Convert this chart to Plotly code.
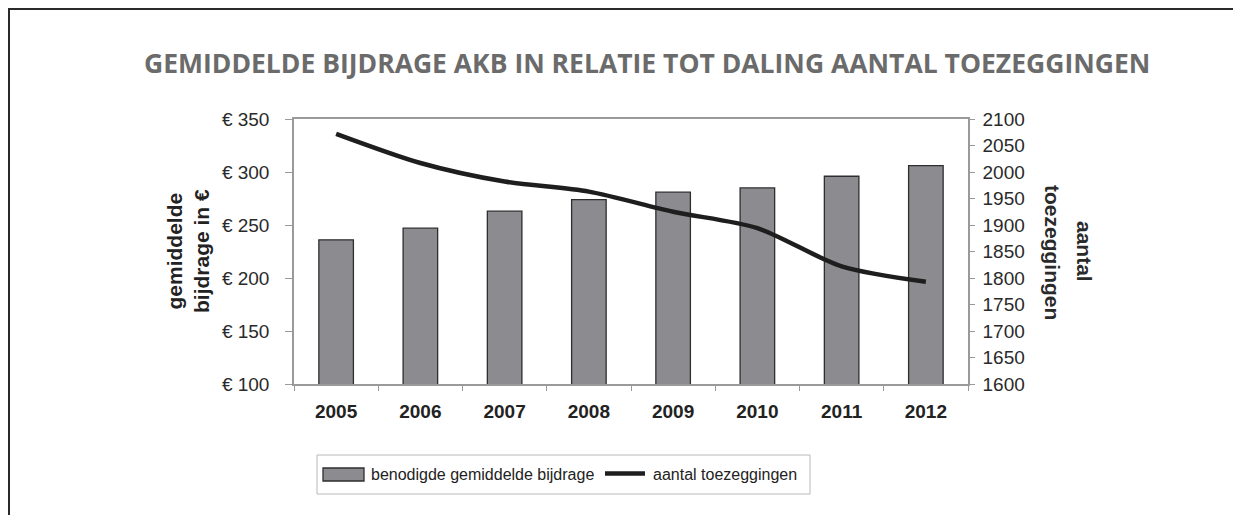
import plotly.graph_objects as go

years = ["2005", "2006", "2007", "2008", "2009", "2010", "2011", "2012"]
bijdrage = [236, 247, 263, 274, 281, 285, 296, 306]
toezeggingen = [2072, 2017, 1982, 1963, 1925, 1894, 1822, 1793]
left_ticks = [100, 150, 200, 250, 300, 350]
left_ticktext = ["€ 100", "€ 150", "€ 200", "€ 250", "€ 300", "€ 350"]
right_ticks = [1600, 1650, 1700, 1750, 1800, 1850, 1900, 1950, 2000, 2050, 2100]

# The page adds an 8px body margin; work in page pixels and convert.
OFF = 8
W, H = 1241 - OFF, 515 - OFF
PL, PR, PT, PB = 294, 968, 119, 384          # plot area in page pixels
L, R, T, B = PL - OFF, PR - OFF, PT - OFF, PB - OFF


def px(xp):
    return (xp - OFF - L) / (R - L)


def py(yp):
    return (B - (yp - OFF)) / (B - T)


SANS = "Liberation Sans, Arial, sans-serif"

fig = go.Figure()
fig.add_trace(go.Bar(
    x=years, y=bijdrage, name="benodigde gemiddelde bijdrage",
    marker=dict(color="#8c8c90", line=dict(color="#2e2e2e", width=1.3)),
    width=0.41, yaxis="y", showlegend=False,
))
fig.add_trace(go.Scatter(
    x=years, y=toezeggingen, name="aantal toezeggingen", mode="lines",
    line=dict(color="#1e1e1e", width=4.5, shape="spline", smoothing=0.8),
    yaxis="y2", showlegend=False,
))

axis_font = dict(family=SANS, size=19, color="#2a2a2a")
fig.update_layout(
    width=W, height=H,
    margin=dict(l=L, r=W - R, t=T, b=H - B),
    paper_bgcolor="white", plot_bgcolor="white",
    showlegend=False,
    xaxis=dict(
        type="category", showline=True, linecolor="#9a9a9a", linewidth=1.5,
        ticks="outside", ticklen=5, tickcolor="#9a9a9a", tickson="boundaries",
        tickfont=dict(family=SANS, size=19, color="#222", weight="bold"),
        ticklabelstandoff=9,
        mirror=True, showgrid=False,
    ),
    yaxis=dict(
        range=[100, 350], tickvals=left_ticks, ticktext=left_ticktext,
        showline=True, linecolor="#9a9a9a", linewidth=1.5,
        ticks="outside", ticklen=7, tickcolor="#9a9a9a",
        ticklabelstandoff=12,
        tickfont=axis_font, showgrid=False, zeroline=False,
    ),
    yaxis2=dict(
        range=[1600, 2100], tickvals=right_ticks, overlaying="y", side="right",
        showline=True, linecolor="#9a9a9a", linewidth=1.5,
        ticks="outside", ticklen=5, tickcolor="#9a9a9a",
        ticklabelstandoff=4,
        tickfont=axis_font, showgrid=False, zeroline=False,
    ),
)

# Title
fig.add_annotation(
    text="GEMIDDELDE BIJDRAGE AKB IN RELATIE TOT DALING AANTAL TOEZEGGINGEN",
    xref="paper", yref="paper", x=px(647), y=py(63),
    xanchor="center", yanchor="middle", showarrow=False,
    font=dict(family="Open Sans, sans-serif", size=26.5, color="#6b6b6b", weight="bold"),
)
# Axis titles
fig.add_annotation(
    text="gemiddelde<br>bijdrage in €", textangle=-90,
    xref="paper", yref="paper", x=px(188), y=py(251),
    xanchor="center", yanchor="middle", showarrow=False,
    font=dict(family=SANS, size=21, color="#222", weight="bold"),
)
fig.add_annotation(
    text="toezeggingen", textangle=90,
    xref="paper", yref="paper", x=px(1053), y=py(252),
    xanchor="center", yanchor="middle", showarrow=False,
    font=dict(family=SANS, size=21, color="#2a2a2a", weight="bold"),
)
fig.add_annotation(
    text="aantal", textangle=90,
    xref="paper", yref="paper", x=px(1085), y=py(251),
    xanchor="center", yanchor="middle", showarrow=False,
    font=dict(family=SANS, size=21, color="#2a2a2a", weight="bold"),
)

# Outer frame (top and left edges)
fig.add_shape(type="line", xref="paper", yref="paper",
              x0=px(8), x1=px(1260), y0=py(8.5), y1=py(8.5),
              line=dict(color="#2a2a2a", width=3))
fig.add_shape(type="line", xref="paper", yref="paper",
              x0=px(8.75), x1=px(8.75), y0=py(7), y1=py(530),
              line=dict(color="#2a2a2a", width=2.5))

# Legend box drawn to match the reference style
fig.add_shape(type="rect", xref="paper", yref="paper",
              x0=px(317), x1=px(810), y0=py(455), y1=py(494),
              line=dict(color="#b8b8b8", width=1), fillcolor="white")
fig.add_shape(type="rect", xref="paper", yref="paper",
              x0=px(323), x1=px(364), y0=py(468), y1=py(481),
              line=dict(color="#2e2e2e", width=1.3), fillcolor="#8c8c90")
fig.add_annotation(
    text="benodigde gemiddelde bijdrage", xref="paper", yref="paper",
    x=px(369), y=py(474), xanchor="left", yanchor="middle", showarrow=False,
    font=dict(family=SANS, size=16, color="#222"),
)
fig.add_shape(type="line", xref="paper", yref="paper",
              x0=px(605), x1=px(645), y0=py(473.5), y1=py(473.5),
              line=dict(color="#1e1e1e", width=4.5))
fig.add_annotation(
    text="aantal toezeggingen", xref="paper", yref="paper",
    x=px(651), y=py(474), xanchor="left", yanchor="middle", showarrow=False,
    font=dict(family=SANS, size=16, color="#222"),
)

fig.write_html("out.html")
